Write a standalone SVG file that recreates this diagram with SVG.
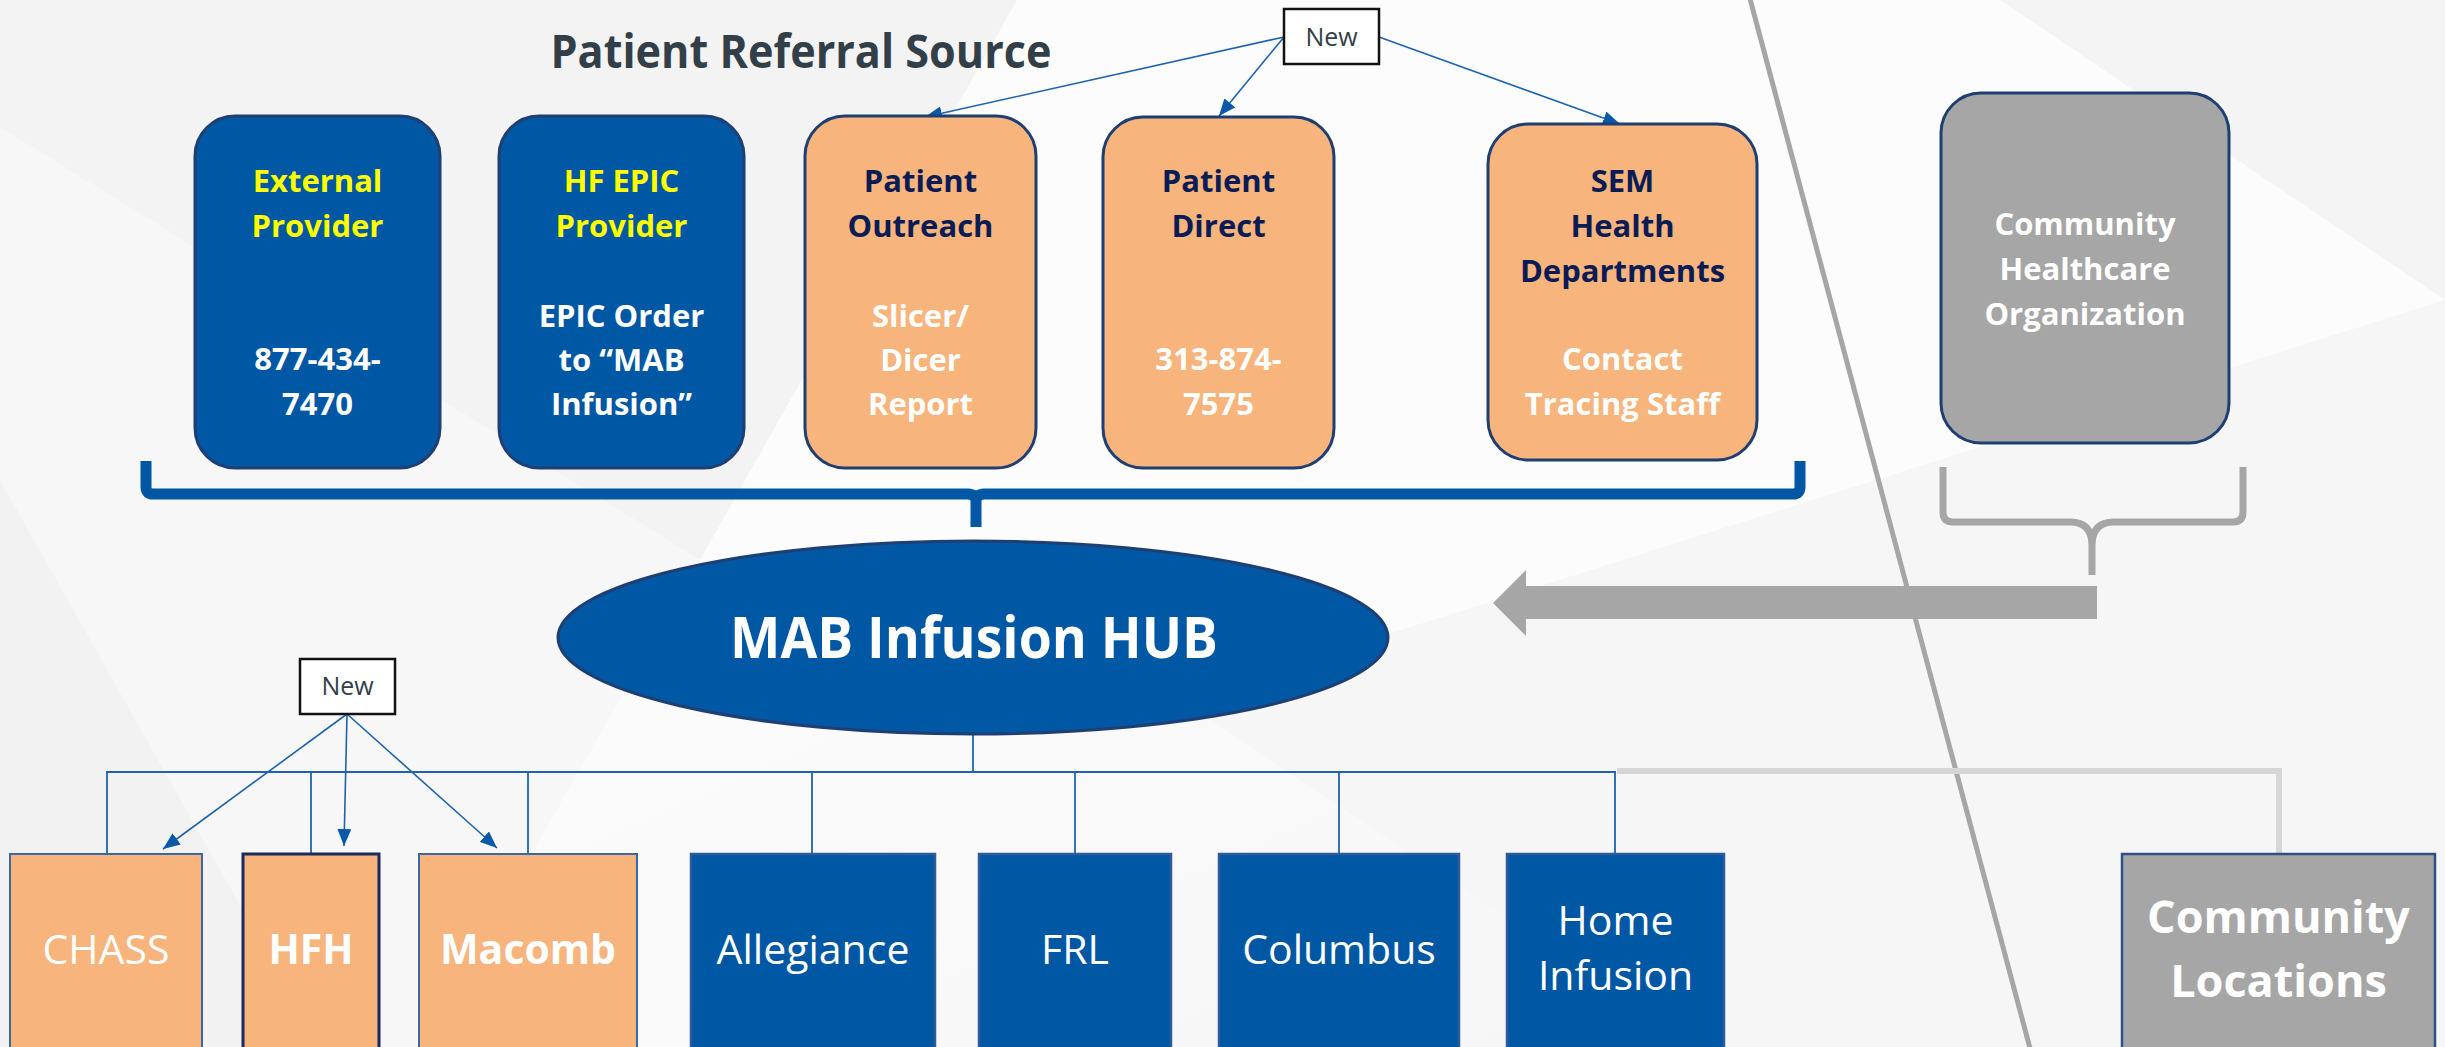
<svg xmlns="http://www.w3.org/2000/svg" width="2445" height="1047" viewBox="0 0 2445 1047">
<style>
  .t { font-family: "Open Sans", "Liberation Sans", sans-serif; text-anchor: middle; }
  .b { font-weight: 700; }
  .box { font-size: 31px; }
  .yel { fill: #FFFF00; }
  .wht { fill: #FFFFFF; }
  .nav { fill: #0B1C55; }
  .blue { fill: #0057A3; stroke: #1F3F73; stroke-width: 3; }
  .peach { fill: #F7B47C; stroke: #1F3F73; stroke-width: 3; }
  .grey { fill: #A6A6A6; stroke: #1F3F73; stroke-width: 3; }
  .bblue { fill: #0057A3; stroke: #2E5C9A; stroke-width: 2.5; }
  .bpeach { fill: #F7B47C; stroke: #3D68A8; stroke-width: 2; }
  .conn { fill: none; stroke: #1F63AE; stroke-width: 1.8; }
  .arr { fill: none; stroke: #1F63AE; stroke-width: 1.6; marker-end: url(#ah); }
  .newbox { fill: #FFFFFF; stroke: #111111; stroke-width: 2.5; }
  .newtxt { font-size: 25px; fill: #333F48; }
  .bot { font-size: 41px; fill: #FFFFFF; }
</style>
<defs>
  <marker id="ah" markerUnits="userSpaceOnUse" markerWidth="17" markerHeight="14" refX="17" refY="7" orient="auto">
    <path d="M0,0 L17,7 L0,14 z" fill="#0A58A8"/>
  </marker>
  <linearGradient id="bg" x1="0" y1="0" x2="1" y2="1">
    <stop offset="0" stop-color="#F3F3F3"/>
    <stop offset="0.45" stop-color="#FBFBFB"/>
    <stop offset="1" stop-color="#F4F4F4"/>
  </linearGradient>
</defs>

<!-- background -->
<g id="background">
  <rect x="0" y="0" width="2445" height="1047" fill="url(#bg)"/>
  <polygon points="0,0 1017,0 700,560 0,127" fill="#F3F3F3"/>
  <polygon points="0,127 700,560 421,1047 0,1047" fill="#F7F7F7"/>
  <polygon points="1017,0 2445,0 2445,300 1180,700 700,560" fill="#FCFCFC"/>
  <polygon points="1180,700 2445,300 2445,1047 1700,1047" fill="#F6F6F6"/>
  <polygon points="2000,0 2445,0 2445,300" fill="#F4F4F4"/>
  <polygon points="0,480 320,1047 0,1047" fill="#F2F2F2"/>
</g>

<!-- divider and brackets -->
<g id="decor">
  <line x1="1749" y1="-5" x2="2031" y2="1052" stroke="#A6A6A6" stroke-width="5"/>
  <path d="M146,461 L146,487 Q146,494 153,494 L968,494 Q976,494 976,502 L976,527 M976,502 Q976,494 984,494 L1793,494 Q1800,494 1800,487 L1800,461" fill="none" stroke="#0057A3" stroke-width="11"/>
  <path d="M1943,467 L1943,512 Q1943,522 1953,522 L2070,522 Q2092,522 2092,545 L2092,575 M2092,545 Q2092,522 2114,522 L2233,522 Q2243,522 2243,512 L2243,467" fill="none" stroke="#A6A6A6" stroke-width="7"/>
</g>

<!-- connectors -->
<g id="connectors">
  <line x1="973" y1="734" x2="973" y2="772" class="conn"/>
  <line x1="106" y1="772" x2="1616" y2="772" class="conn"/>
  <line x1="107" y1="772" x2="107" y2="854" class="conn"/>
  <line x1="311" y1="772" x2="311" y2="854" class="conn"/>
  <line x1="528" y1="772" x2="528" y2="854" class="conn"/>
  <line x1="812" y1="772" x2="812" y2="854" class="conn"/>
  <line x1="1075" y1="772" x2="1075" y2="854" class="conn"/>
  <line x1="1339" y1="772" x2="1339" y2="854" class="conn"/>
  <line x1="1615" y1="772" x2="1615" y2="854" class="conn"/>
  <path d="M1617,771 L2279,771 L2279,854" fill="none" stroke="#D6D6D6" stroke-width="6"/>
  <line x1="1284" y1="37" x2="925" y2="117" class="arr"/>
  <line x1="1284" y1="37" x2="1219" y2="116" class="arr"/>
  <line x1="1379" y1="37" x2="1620" y2="124" class="arr"/>
  <line x1="347" y1="714" x2="163" y2="849" class="arr"/>
  <line x1="347" y1="714" x2="344" y2="846" class="arr"/>
  <line x1="347" y1="714" x2="497" y2="848" class="arr"/>
  <polygon points="1493,603 1526,570 1526,586 2097,586 2097,619 1526,619 1526,636" fill="#A6A6A6"/>
</g>

<!-- title -->
<g id="title">
  <text x="801" y="68" class="t b" font-size="46" fill="#333F48" textLength="501" lengthAdjust="spacingAndGlyphs">Patient Referral Source</text>
</g>

<!-- top row -->
<g id="external-provider">
  <rect x="195" y="116" width="245" height="352" rx="40" class="blue"/>
  <text class="t b box yel" x="317.5" y="192">External</text>
  <text class="t b box yel" x="317.5" y="237">Provider</text>
  <text class="t b box wht" x="317.5" y="370">877-434-</text>
  <text class="t b box wht" x="317.5" y="415">7470</text>
</g>
<g id="hf-epic-provider">
  <rect x="499" y="116" width="245" height="352" rx="40" class="blue"/>
  <text class="t b box yel" x="621.5" y="192">HF EPIC</text>
  <text class="t b box yel" x="621.5" y="237">Provider</text>
  <text class="t b box wht" x="621.5" y="327">EPIC Order</text>
  <text class="t b box wht" x="621.5" y="371">to “MAB</text>
  <text class="t b box wht" x="621.5" y="415">Infusion”</text>
</g>
<g id="patient-outreach">
  <rect x="805" y="116" width="231" height="352" rx="40" class="peach"/>
  <text class="t b box nav" x="920.5" y="192">Patient</text>
  <text class="t b box nav" x="920.5" y="237">Outreach</text>
  <text class="t b box wht" x="920.5" y="327">Slicer/</text>
  <text class="t b box wht" x="920.5" y="371">Dicer</text>
  <text class="t b box wht" x="920.5" y="415">Report</text>
</g>
<g id="patient-direct">
  <rect x="1103" y="117" width="231" height="351" rx="40" class="peach"/>
  <text class="t b box nav" x="1218.5" y="192">Patient</text>
  <text class="t b box nav" x="1218.5" y="237">Direct</text>
  <text class="t b box wht" x="1218.5" y="370">313-874-</text>
  <text class="t b box wht" x="1218.5" y="415">7575</text>
</g>
<g id="sem-health">
  <rect x="1488" y="124" width="269" height="336" rx="40" class="peach"/>
  <text class="t b box nav" x="1622.5" y="192">SEM</text>
  <text class="t b box nav" x="1622.5" y="237">Health</text>
  <text class="t b box nav" x="1622.5" y="282">Departments</text>
  <text class="t b box wht" x="1622.5" y="370">Contact</text>
  <text class="t b box wht" x="1622.5" y="415">Tracing Staff</text>
</g>
<g id="community-healthcare">
  <rect x="1941" y="93" width="288" height="350" rx="40" class="grey"/>
  <text class="t b box wht" x="2085" y="235">Community</text>
  <text class="t b box wht" x="2085" y="280">Healthcare</text>
  <text class="t b box wht" x="2085" y="325">Organization</text>
</g>

<!-- new labels -->
<g id="new-top">
  <rect x="1284" y="9" width="95" height="55" class="newbox"/>
  <text class="t newtxt" x="1331.5" y="46">New</text>
</g>
<g id="new-bottom">
  <rect x="300" y="659" width="95" height="55" class="newbox"/>
  <text class="t newtxt" x="347.5" y="695">New</text>
</g>

<!-- hub -->
<g id="hub">
  <ellipse cx="973" cy="637.5" rx="415" ry="96.5" fill="#0057A3" stroke="#1F3F73" stroke-width="3"/>
  <text class="t b" x="974" y="658" font-size="57" fill="#FFFFFF" textLength="488" lengthAdjust="spacingAndGlyphs">MAB Infusion HUB</text>
</g>

<!-- bottom row -->
<g id="chass">
  <rect x="10" y="854" width="192" height="200" class="bpeach"/>
  <text class="t bot" x="106" y="964">CHASS</text>
</g>
<g id="hfh">
  <rect x="243" y="854" width="136" height="200" fill="#F7B47C" stroke="#1B2A5E" stroke-width="3"/>
  <text class="t b bot" x="311" y="964">HFH</text>
</g>
<g id="macomb">
  <rect x="419" y="854" width="218" height="200" class="bpeach"/>
  <text class="t b bot" x="528" y="964">Macomb</text>
</g>
<g id="allegiance">
  <rect x="691" y="854" width="244" height="200" class="bblue"/>
  <text class="t bot" x="813" y="964">Allegiance</text>
</g>
<g id="frl">
  <rect x="979" y="854" width="192" height="200" class="bblue"/>
  <text class="t bot" x="1075" y="964">FRL</text>
</g>
<g id="columbus">
  <rect x="1219" y="854" width="240" height="200" class="bblue"/>
  <text class="t bot" x="1339" y="964">Columbus</text>
</g>
<g id="home-infusion">
  <rect x="1507" y="854" width="217" height="200" class="bblue"/>
  <text class="t bot" x="1615.5" y="935">Home</text>
  <text class="t bot" x="1615.5" y="990">Infusion</text>
</g>
<g id="community-locations">
  <rect x="2122" y="854" width="313" height="200" fill="#A6A6A6" stroke="#2E4F8A" stroke-width="2.5"/>
  <text class="t b" x="2278.5" y="933" font-size="45" fill="#FFFFFF">Community</text>
  <text class="t b" x="2278.5" y="997" font-size="45" fill="#FFFFFF">Locations</text>
</g>
</svg>
